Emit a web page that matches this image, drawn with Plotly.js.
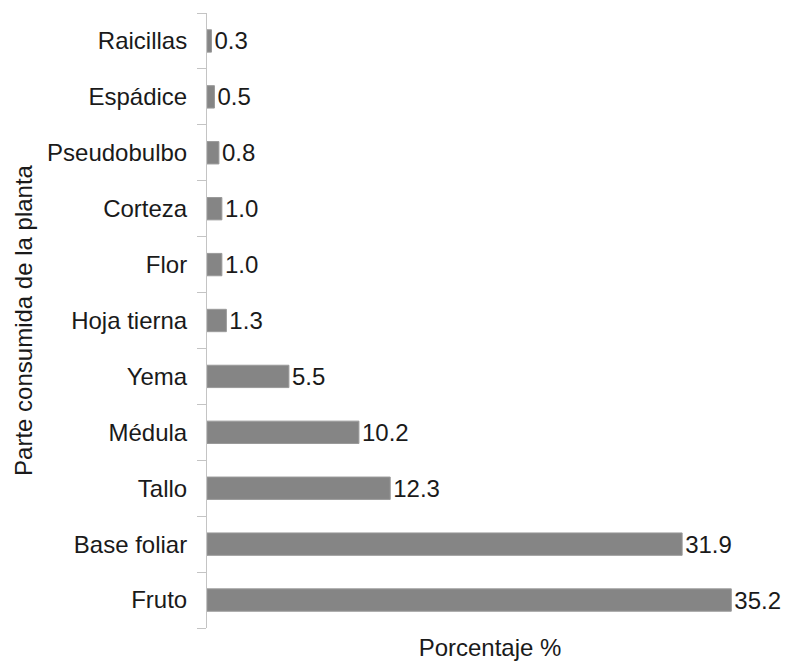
<!DOCTYPE html>
<html><head><meta charset="utf-8">
<script src="https://cdn.plot.ly/plotly-3.0.1.min.js"></script>
<style>body{margin:0;background:#fff}#c{width:785px;height:661px}</style>
</head><body><div id="c"></div>
<script>
const categories = ["Fruto","Base foliar","Tallo","Médula","Yema","Hoja tierna","Flor","Corteza","Pseudobulbo","Espádice","Raicillas"];
const values = [35.2,31.9,12.3,10.2,5.5,1.3,1.0,1.0,0.8,0.5,0.3];
const labels = values.map(v => v.toFixed(1));

Plotly.newPlot('c', [{
  type:'bar', orientation:'h',
  x: values, y: categories,
  text: labels, textposition:'outside', cliponaxis:false, constraintext:'none',
  textfont:{family:'Liberation Sans, Arial', size:24, color:'#1a1a1a'},
  marker:{color:'#858585', line:{color:'#9a9a9a', width:1}},
  hoverinfo:'none'
}], {
  width:785, height:661,
  margin:{l:207, r:12, t:13, b:33},
  paper_bgcolor:'#fff', plot_bgcolor:'#fff',
  bargap:0.6,
  showlegend:false,
  font:{family:'Liberation Sans, Arial', size:24, color:'#1a1a1a'},
  xaxis:{range:[0,38], showgrid:false, zeroline:false, showline:false, showticklabels:false, ticks:'',
    title:{text:'Porcentaje %', font:{size:24, color:'#1a1a1a'}, standoff:11}},
  yaxis:{type:'category', categoryorder:'array', categoryarray:categories,
    showline:true, linecolor:'#c4c4c4', linewidth:1,
    ticks:'outside', tickson:'boundaries', ticklen:9, tickcolor:'#c4c4c4',
    ticklabelstandoff:14,
    tickfont:{size:24, color:'#1a1a1a'}, showgrid:false, zeroline:false,
    title:{text:'Parte consumida de la planta', font:{size:24, color:'#1a1a1a'}, standoff:7}}
}, {displayModeBar:false, staticPlot:true});
</script></body></html>
